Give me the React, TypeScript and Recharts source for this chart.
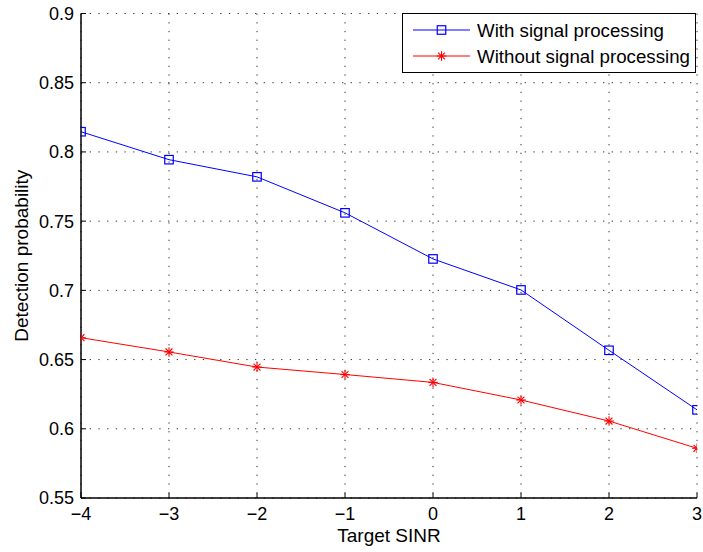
import React from 'react';
import { LineChart, Line, XAxis, YAxis, CartesianGrid, Legend } from 'recharts';

const sinrValues = [-4, -3, -2, -1, 0, 1, 2, 3];
const withProcessing = [0.8146, 0.7944, 0.782, 0.756, 0.7227, 0.7003, 0.6567, 0.6137];
const withoutProcessing = [0.6658, 0.6555, 0.6446, 0.6392, 0.6335, 0.6208, 0.6056, 0.5859];
const xTicks = [-4, -3, -2, -1, 0, 1, 2, 3];
const yTicks = [0.55, 0.6, 0.65, 0.7, 0.75, 0.8, 0.85, 0.9];
const seriesNames = ['With signal processing', 'Without signal processing'];

const data = sinrValues.map((x, i) => ({
  x,
  withP: withProcessing[i],
  withoutP: withoutProcessing[i],
}));

const FONT = '"Liberation Sans", Arial, Helvetica, sans-serif';
const BLUE = '#0000ff';
const RED = '#ff0000';

const SquareMarker = (props: any) => {
  const { cx, cy } = props;
  if (cx == null || cy == null) return null;
  const s = 8.5;
  return <rect x={cx - s / 2} y={cy - s / 2} width={s} height={s} fill="none" stroke={BLUE} strokeWidth={1.2} />;
};

const StarMarker = (props: any) => {
  const { cx, cy } = props;
  if (cx == null || cy == null) return null;
  const r = 4.8;
  const d = r * 0.72;
  return (
    <g stroke={RED} strokeWidth={1.1}>
      <line x1={cx - r} y1={cy} x2={cx + r} y2={cy} />
      <line x1={cx} y1={cy - r} x2={cx} y2={cy + r} />
      <line x1={cx - d} y1={cy - d} x2={cx + d} y2={cy + d} />
      <line x1={cx - d} y1={cy + d} x2={cx + d} y2={cy - d} />
    </g>
  );
};

const fmtX = (v: number) => (v < 0 ? '\u2212' + Math.abs(v) : String(v));
const fmtY = (v: number) => String(Math.round(v * 100) / 100);

const LegendBox = () => (
  <svg width={295} height={61} style={{ display: 'block' }}>
    <rect x={0.5} y={0.5} width={293} height={59} fill="#fff" stroke="#000" strokeWidth={1} />
    <line x1={11} y1={17} x2={68} y2={17} stroke={BLUE} strokeWidth={1} />
    <SquareMarker cx={39.5} cy={17} />
    <text x={75} y={17} dy="0.355em" fontFamily={FONT} fontSize={18.7} fill="#000">{seriesNames[0]}</text>
    <line x1={11} y1={43} x2={68} y2={43} stroke={RED} strokeWidth={1} />
    <StarMarker cx={39.5} cy={43} />
    <text x={75} y={43} dy="0.355em" fontFamily={FONT} fontSize={18.7} fill="#000">{seriesNames[1]}</text>
  </svg>
);

export default function App() {
  const tickStyle = { fontFamily: FONT, fontSize: 18, fill: '#000' };
  return (
    <div style={{ position: 'fixed', left: 0, top: 0, width: 703, height: 552, background: '#fff' }}>
      <LineChart width={703} height={552} data={data} margin={{ top: 13.5, right: 6, left: 0, bottom: 0 }}>
        <CartesianGrid stroke="#333" strokeDasharray="1.3 7.4" strokeWidth={1} xAxisId="bottom" yAxisId="left" />
        <XAxis
          xAxisId="bottom"
          dataKey="x"
          type="number"
          domain={[-4, 3]}
          ticks={xTicks}
          tickFormatter={fmtX}
          height={54}
          tickSize={-5}
          tickMargin={14}
          axisLine={{ stroke: '#000', strokeWidth: 1.5 }}
          tickLine={{ stroke: '#000', strokeWidth: 1 }}
          tick={tickStyle}
          interval={0}
          allowDataOverflow
          label={{ value: 'Target SINR', position: 'insideBottom', offset: 10, style: { fontFamily: FONT, fontSize: 19, fill: '#000' } }}
        />
        <XAxis
          xAxisId="top"
          dataKey="x"
          type="number"
          orientation="top"
          domain={[-4, 3]}
          ticks={xTicks}
          height={0}
          tick={false}
          tickSize={-5}
          axisLine={{ stroke: '#000', strokeWidth: 1.5 }}
          tickLine={{ stroke: '#000', strokeWidth: 1 }}
          interval={0}
        />
        <YAxis
          yAxisId="left"
          type="number"
          domain={[0.55, 0.9]}
          ticks={yTicks}
          tickFormatter={fmtY}
          width={81}
          tickSize={-5}
          tickMargin={12}
          axisLine={{ stroke: '#000', strokeWidth: 1.5 }}
          tickLine={{ stroke: '#000', strokeWidth: 1 }}
          tick={tickStyle}
          interval={0}
          allowDataOverflow
          label={{ value: 'Detection probability', angle: -90, position: 'insideLeft', offset: 21, style: { textAnchor: 'middle', fontFamily: FONT, fontSize: 19, fill: '#000' } }}
        />
        <YAxis
          yAxisId="right"
          orientation="right"
          type="number"
          domain={[0.55, 0.9]}
          ticks={yTicks}
          width={0}
          tick={false}
          tickSize={-5}
          axisLine={{ stroke: '#000', strokeWidth: 1.5 }}
          tickLine={{ stroke: '#000', strokeWidth: 1 }}
          interval={0}
        />
        <Line
          xAxisId="bottom"
          yAxisId="left"
          type="linear"
          dataKey="withP"
          name={seriesNames[0]}
          stroke={BLUE}
          strokeWidth={1}
          dot={<SquareMarker />}
          activeDot={false}
          isAnimationActive={false}
        />
        <Line
          xAxisId="bottom"
          yAxisId="left"
          type="linear"
          dataKey="withoutP"
          name={seriesNames[1]}
          stroke={RED}
          strokeWidth={1}
          dot={<StarMarker />}
          activeDot={false}
          isAnimationActive={false}
        />
        <Legend
          layout="horizontal"
          verticalAlign="middle"
          align="center"
          content={() => <LegendBox />}
          wrapperStyle={{ left: 402, top: 13, width: 295, height: 61 }}
        />
      </LineChart>
    </div>
  );
}
